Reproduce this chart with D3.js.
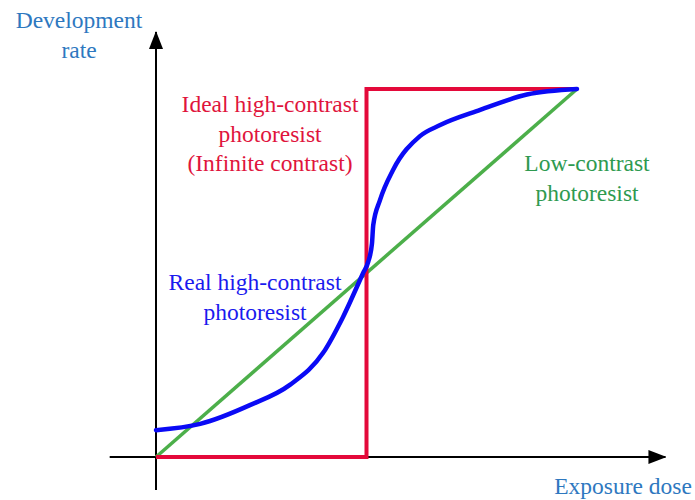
<!DOCTYPE html>
<html>
<head>
<meta charset="utf-8">
<script src="https://cdn.jsdelivr.net/npm/d3@7"></script>
<style>
  body { margin: 0; background: #fff; }
  .lbl { font-family: "Liberation Serif", "Times New Roman", Tinos, "DejaVu Serif", serif; }
</style>
</head>
<body>
<div id="chart"></div>
<script>
const w = 695;
const h = 500;

// normalised exposure dose (x) and development rate (y)
const idealDose = [0, 0.5, 0.5, 1];
const idealRate = [0, 0, 1, 1];

const lowDose = [0, 1];
const lowRate = [0, 1];

const realDose = [0, 0.105, 0.223, 0.318, 0.397, 0.444, 0.492, 0.504, 0.513, 0.516, 0.532, 0.563, 0.627, 0.675, 0.77, 0.881, 1];
const realRate = [0.073, 0.09, 0.141, 0.196, 0.283, 0.38, 0.5, 0.53, 0.58, 0.63, 0.698, 0.78, 0.872, 0.902, 0.943, 0.985, 1];

const axisX = [-0.11, 1.21];
const axisY = [-0.09, 1.155];

window.onload = function() {
    const svg = d3.select("#chart")
        .append("svg")
        .attr("width", w)
        .attr("height", h);

    const x = d3.scaleLinear().domain([0, 1]).range([156, 577]);
    const y = d3.scaleLinear().domain([0, 1]).range([457, 89]);

    const defs = svg.append("defs");
    defs.append("marker")
        .attr("id", "arrow")
        .attr("viewBox", "0 0 18 14")
        .attr("refX", 17)
        .attr("refY", 7)
        .attr("markerWidth", 18)
        .attr("markerHeight", 14)
        .attr("markerUnits", "userSpaceOnUse")
        .attr("orient", "auto")
        .append("path")
        .attr("d", "M0,0 L18,7 L0,14 Z")
        .attr("fill", "#000");

    // axes
    svg.append("line")
        .attr("x1", x(axisX[0])).attr("y1", y(0))
        .attr("x2", x(axisX[1])).attr("y2", y(0))
        .attr("stroke", "#000").attr("stroke-width", 2)
        .attr("marker-end", "url(#arrow)");

    svg.append("line")
        .attr("x1", x(0)).attr("y1", y(axisY[0]))
        .attr("x2", x(0)).attr("y2", y(axisY[1]))
        .attr("stroke", "#000").attr("stroke-width", 2)
        .attr("marker-end", "url(#arrow)");

    const line = d3.line().x(d => x(d[0])).y(d => y(d[1]));

    svg.append("path")
        .datum(d3.zip(lowDose, lowRate))
        .attr("d", line)
        .attr("fill", "none")
        .attr("stroke", "#4CAF4A")
        .attr("stroke-width", 3.5);

    svg.append("path")
        .datum(d3.zip(idealDose, idealRate))
        .attr("d", line)
        .attr("fill", "none")
        .attr("stroke", "#E4093A")
        .attr("stroke-width", 4)
        .attr("stroke-linejoin", "miter");

    svg.append("path")
        .datum(d3.zip(realDose, realRate))
        .attr("d", line.curve(d3.curveMonotoneX))
        .attr("fill", "none")
        .attr("stroke", "#0A0AF5")
        .attr("stroke-width", 4.5)
        .attr("stroke-linecap", "round");

    // labels
    const labels = [
        { lines: ["Development", "rate"], cx: 79, y0: 28, color: "#2E78BF" },
        { lines: ["Exposure dose"], cx: 623, y0: 494, color: "#2E78BF" },
        { lines: ["Ideal high-contrast", "photoresist", "(Infinite contrast)"], cx: 270, y0: 112, color: "#E0143C" },
        { lines: ["Low-contrast", "photoresist"], cx: 587, y0: 171, color: "#2E9A50" },
        { lines: ["Real high-contrast", "photoresist"], cx: 255, y0: 290, color: "#1A1AEE" }
    ];

    labels.forEach(l => {
        const t = svg.append("text")
            .attr("class", "lbl")
            .attr("text-anchor", "middle")
            .style("font-size", "23.5px")
            .attr("fill", l.color);
        l.lines.forEach((s, i) => {
            t.append("tspan")
                .attr("x", l.cx)
                .attr("y", l.y0 + 29.5 * i)
                .text(s);
        });
    });
};
</script>
</body>
</html>
